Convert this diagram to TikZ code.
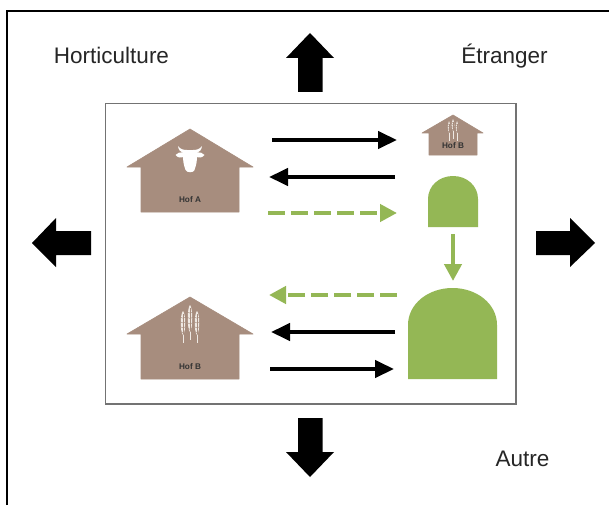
\documentclass[tikz,border=0pt]{standalone}
\usepackage{fontspec}
\setmainfont{Liberation Sans}
\usetikzlibrary{arrows.meta}
\definecolor{barn}{HTML}{A78D7E}
\definecolor{silo}{HTML}{94B755}
\definecolor{grain}{HTML}{EFE9E3}
\tikzset{
  frameline/.style={draw=black,line width=2pt},
  innerbox/.style={draw=black!55,line width=1.6pt,fill=white},
  barnshape/.style={fill=barn,draw=barn,line width=.6pt,line join=round},
  siloshape/.style={fill=silo},
  blockarrow/.style={fill=black},
  label/.style={inner sep=0pt,font=\fontsize{22.5}{24}\selectfont,text=black!85},
  hoflabel/.style={inner sep=0pt,font=\fontsize{8.2}{9}\selectfont\bfseries,text=black!80},
  flow/.style={draw=black,line width=4.4pt,-{Triangle[length=19pt,width=17pt]}},
  gflow/.style={draw=silo,line width=4.6pt,-{Triangle[length=17pt,width=17pt]}},
  gdash/.style={gflow,dash pattern=on 17pt off 6pt}
}
\newcommand{\wheatear}[4]{% x, top y, bottom y of ear, half-width
  \fill[grain] (#1,#2) .. controls (#1+#4,#2+3) and (#1+#4,#3-3) .. (#1,#3)
     .. controls (#1-#4,#3-3) and (#1-#4,#2+3) .. (#1,#2);
  \draw[grain,line width=.9pt] (#1,#3) -- (#1,#3+8);
  \draw[barn,line width=.45pt] (#1,#2+3) -- (#1,#3-1);
  \foreach \k in {0.3,0.5,0.7,0.9}
    \draw[barn,line width=.4pt] (#1-#4,{#2+(#3-#2)*\k-1.2}) -- (#1,{#2+(#3-#2)*\k}) -- (#1+#4,{#2+(#3-#2)*\k-1.2});
}
\begin{document}
\begin{tikzpicture}[x=1pt,y=-1pt]
\useasboundingbox (0,0) rectangle (609,505);
\fill[white] (0,0) rectangle (609,505);
% outer frame, open to the right and below
\draw[frameline] (7,505) -- (7,11) -- (609,11);
% inner frame
\draw[innerbox] (105.5,103.5) rectangle (516,404);

% block arrows
\path[blockarrow] (310,33) -- (334,58) -- (322.5,58) -- (322.5,92) -- (298,92) -- (298,58) -- (286,58) -- cycle;
\path[blockarrow] (310,477) -- (334,452) -- (322.5,452) -- (322.5,418) -- (298,418) -- (298,452) -- (286,452) -- cycle;
\path[blockarrow] (32,243) -- (56,218) -- (56,231) -- (91,231) -- (91,255) -- (56,255) -- (56,267) -- cycle;
\path[blockarrow] (595,243) -- (570,218) -- (570,231) -- (536,231) -- (536,255) -- (570,255) -- (570,267) -- cycle;

% outside labels
\node[label] (horti) at (111.5,55) {Horticulture};
\node[label] (etranger) at (504.5,56) {Étranger};
\node[label] (autre) at (522.5,459) {Autre};

% Hof A
\path[barnshape] (190,129) -- (253,167) -- (239,167) -- (239,212) -- (141,212) -- (141,167) -- (127,167) -- cycle;
\fill[white] (183,153) -- (197,153) .. controls (197.5,160) and (196,166) .. (194.5,170)
   .. controls (193.5,173) and (186.5,173) .. (185.5,170) .. controls (184,166) and (182.5,160) .. (183,153) -- cycle;
\fill[white] (184,152) .. controls (180,153) and (177,152) .. (175.5,155) .. controls (178,158) and (181,158) .. (184,157) -- cycle;
\fill[white] (196,152) .. controls (200,153) and (203,152) .. (204.5,155) .. controls (202,158) and (199,158) .. (196,157) -- cycle;
\fill[white] (185,153) .. controls (180,152) and (178.5,150) .. (178,146) .. controls (180,149) and (183,150) .. (187,150) -- cycle;
\fill[white] (195,153) .. controls (200,152) and (201.5,150) .. (202,146) .. controls (200,149) and (197,150) .. (193,150) -- cycle;
\fill[white] (184,150) rectangle (196,154);
\node[hoflabel] (hofa) at (190,200) {Hof A};

% Hof B (large)
\path[barnshape] (190,297) -- (253,334) -- (239,334) -- (239,379) -- (141,379) -- (141,334) -- (127,334) -- cycle;
\wheatear{183}{311}{335}{3}
\wheatear{197}{311}{335}{3}
\wheatear{190}{305}{332}{3}
\node[hoflabel] (hofb) at (190,367) {Hof B};

% Hof B (small)
\path[barnshape] (453,115) -- (483,133) -- (477,133) -- (477,155) -- (429,155) -- (429,133) -- (422,133) -- cycle;
\wheatear{449}{121}{133}{1.6}
\wheatear{457}{121}{133}{1.6}
\wheatear{453}{119}{131}{1.8}
\node[hoflabel] (hofbs) at (453,146) {Hof B};

% silos
\path[siloshape] (428,227) -- (428,199) .. controls (428,186) and (439,176) .. (453,176)
   .. controls (467,176) and (478,186) .. (478,199) -- (478,227) -- cycle;
\path[siloshape] (408,379) -- (408,325) .. controls (408,304) and (428,288) .. (452.5,288)
   .. controls (477,288) and (497,304) .. (497,325) -- (497,379) -- cycle;

% connector ends
\coordinate (a1s) at (272,140);  \coordinate (a1e) at (397,140);
\coordinate (a2s) at (395,177);  \coordinate (a2e) at (269,177);
\coordinate (a3s) at (268,213);  \coordinate (a3e) at (397,213);
\coordinate (a4s) at (453,234);  \coordinate (a4e) at (453,281);
\coordinate (a5s) at (397,295);  \coordinate (a5e) at (269,295);
\coordinate (a6s) at (395,332);  \coordinate (a6e) at (271,332);
\coordinate (a7s) at (270,369);  \coordinate (a7e) at (394,369);

\draw[flow] (a1s) -- (a1e);
\draw[flow] (a2s) -- (a2e);
\draw[gdash] (a3s) -- (a3e);
\draw[gflow] (a4s) -- (a4e);
\draw[gdash] (a5s) -- (a5e);
\draw[flow] (a6s) -- (a6e);
\draw[flow] (a7s) -- (a7e);
\end{tikzpicture}
\end{document}
